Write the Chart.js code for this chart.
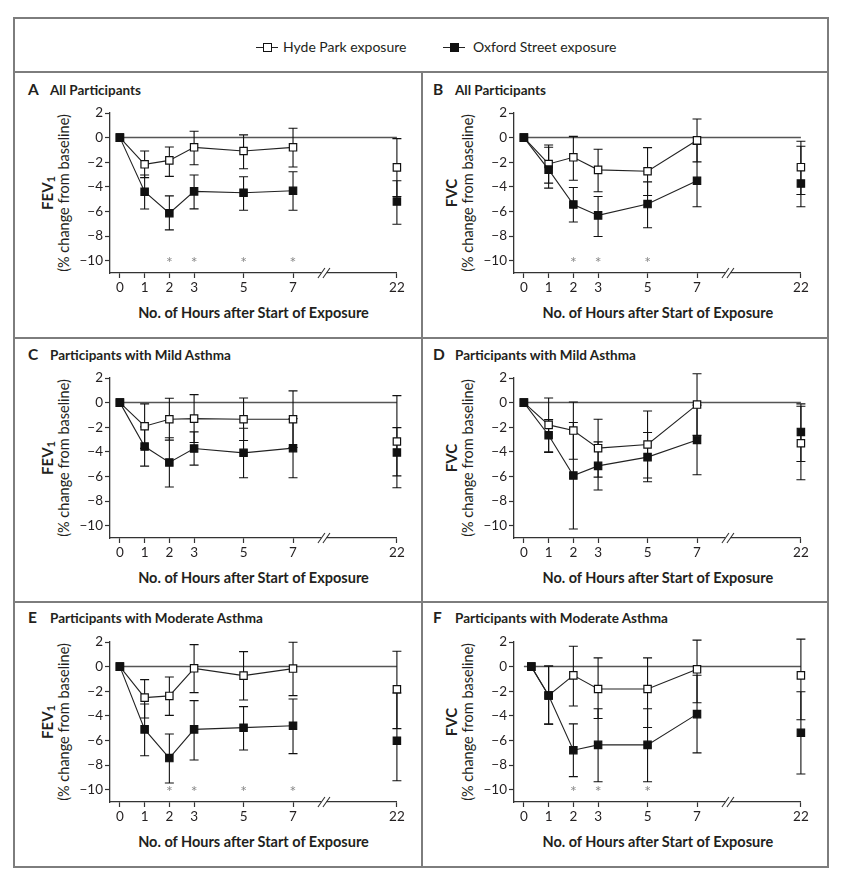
<!DOCTYPE html>
<html>
<head>
<meta charset="utf-8">
<script src="https://cdn.jsdelivr.net/npm/chart.js@4.4.0/dist/chart.umd.min.js"></script>
<style>
  body { margin: 0; background: #fff; font-family: Lato, sans-serif; color: #231f20; }
  #page { position: relative; width: 847px; height: 887px; overflow: hidden; }
  .rule { position: absolute; background: #7d7d7d; }
  .txt { position: absolute; white-space: nowrap; line-height: 1; }
  canvas { position: absolute; }
  .mk { position: absolute; width: 22px; height: 1.3px; background: #222; }
  .mk b { position: absolute; left: 6.5px; top: -3.9px; width: 9px; height: 9px; box-sizing: border-box; border: 1.2px solid #111; background: #fff; }
  .mk.fill b { background: #111; }
  .head { font-weight: bold; font-size: 13.5px; }
  .head span { font-size: 15.5px; display: inline-block; width: 22px; }
  .ytitle { font-size: 14.5px; line-height: 16px; text-align: center; transform: translate(-50%, -50%) rotate(-90deg); }
  .ytitle b { font-size: 15px; }
  .ytitle sub { font-size: 11px; vertical-align: -2px; line-height: 0; }
  .xtitle { font-weight: bold; font-size: 14.5px; transform: translate(-50%, -50%); }
</style>
</head>
<body>
<div id="page">
  <div class="rule" style="left:13px; top:17px; width:816px; height:2px"></div>
  <div class="rule" style="left:13px; top:866px; width:816px; height:2px"></div>
  <div class="rule" style="left:13px; top:17px; width:2px; height:851px"></div>
  <div class="rule" style="left:827px; top:17px; width:2px; height:851px"></div>
  <div class="rule" style="left:13px; top:71px; width:816px; height:2px"></div>
  <div class="rule" style="left:13px; top:337px; width:816px; height:2px"></div>
  <div class="rule" style="left:13px; top:601px; width:816px; height:2px"></div>
  <div class="rule" style="left:421px; top:71px; width:2px; height:797px"></div>

  <div class="mk" style="left:256px; top:47px"><b></b></div>
  <div class="txt" id="leg0" style="left:283px; top:40px; font-size:14px"></div>
  <div class="mk fill" style="left:443px; top:47px"><b></b></div>
  <div class="txt" id="leg1" style="left:473px; top:40px; font-size:14px"></div>
</div>
<script>
// time points (h after start of exposure); 22 h sits after the axis break
const hours = [0, 1, 2, 3, 5, 7, 22];
const hoursF = [0.3, 1, 2, 3, 5, 7, 22];
const yTicks = [2, 0, -2, -4, -6, -8, -10];
const seriesNames = ['Hyde Park exposure', 'Oxford Street exposure'];

// A: FEV1, all participants
const hydeA = [0, -2.17, -1.85, -0.79, -1.09, -0.79, -2.42];
const hydeALo = [null, -3.25, -3.15, -2.2, -2.53, -2.39, -4.78];
const hydeAHi = [null, -1.09, -0.76, 0.52, 0.22, 0.76, -0.08];
const oxfA = [0, -4.4, -6.14, -4.37, -4.48, -4.32, -5.19];
const oxfALo = [null, -5.8, -7.5, -5.79, -5.9, -5.9, -7.04];
const oxfAHi = [null, -3.04, -4.73, -3.04, -3.18, -2.77, -3.5];
const starsA = [2, 3, 5, 7];

// B: FVC, all participants
const hydeB = [0, -2.14, -1.6, -2.62, -2.73, -0.22, -2.4];
const hydeBLo = [null, -3.7, -3.46, -4.4, -4.7, -1.97, -4.62];
const hydeBHi = [null, -0.6, 0.1, -0.95, -0.81, 1.51, -0.3];
const oxfB = [0, -2.6, -5.43, -6.32, -5.4, -3.51, -3.73];
const oxfBLo = [null, -4.1, -6.86, -8.03, -7.32, -5.62, -5.62];
const oxfBHi = [null, -0.78, -4.05, -4.78, -3.6, -0.55, -0.7];
const starsB = [2, 3, 5];

// C: FEV1, mild asthma
const hydeC = [0, -1.92, -1.35, -1.3, -1.35, -1.35, -3.16];
const hydeCLo = [null, -3.72, -3.05, -3.24, -3.08, -3.65, -6.92];
const hydeCHi = [null, -0.1, 0.35, 0.65, 0.38, 0.95, 0.57];
const oxfC = [0, -3.57, -4.86, -3.73, -4.08, -3.7, -4.05];
const oxfCLo = [null, -5.16, -6.86, -5.08, -6.1, -6.1, -5.95];
const oxfCHi = [null, -1.97, -2.86, -2.38, -2.08, -1.3, -2.03];
const starsC = [];

// D: FVC, mild asthma
const hydeD = [0, -1.81, -2.27, -3.7, -3.4, -0.16, -3.3];
const hydeDLo = [null, -4.0, -4.6, -6.05, -6.12, -2.66, -6.27];
const hydeDHi = [null, 0.38, 0.05, -1.35, -0.68, 2.35, -0.3];
const oxfD = [0, -2.65, -5.92, -5.14, -4.43, -3.03, -2.38];
const oxfDLo = [null, -4.05, -10.27, -7.1, -6.43, -5.86, -4.78];
const oxfDHi = [null, -1.38, -1.62, -3.19, -2.43, -0.2, -0.1];
const starsD = [];

// E: FEV1, moderate asthma
const hydeE = [0, -2.52, -2.38, -0.14, -0.73, -0.16, -1.84];
const hydeELo = [null, -4.17, -3.96, -2.11, -2.71, -2.36, -5.04];
const hydeEHi = [null, -1.06, -0.84, 1.79, 1.22, 1.98, 1.25];
const oxfE = [0, -5.1, -7.43, -5.1, -4.96, -4.8, -6.02];
const oxfELo = [null, -7.24, -9.46, -7.59, -6.78, -7.07, -9.27];
const oxfEHi = [null, -3.04, -5.47, -2.76, -3.25, -2.63, -2.14];
const starsE = [2, 3, 5, 7];

// F: FVC, moderate asthma
const hydeF = [0, -2.34, -0.71, -1.82, -1.82, -0.22, -0.71];
const hydeFLo = [null, -4.67, -3.2, -4.21, -4.95, -2.93, -4.32];
const hydeFHi = [null, 0.05, 1.66, 0.71, 0.71, 2.15, 2.23];
const oxfF = [0, -2.34, -6.79, -6.36, -6.36, -3.86, -5.38];
const oxfFLo = [null, -4.67, -8.94, -9.35, -9.35, -7.01, -8.72];
const oxfFHi = [null, 0.05, -4.65, -3.42, -3.42, -0.7, -2.04];
const starsF = [2, 3, 5];

const panels = [
  { key: 'A', title: 'All Participants', measure: 'FEV', sub: '1', col: 0, row: 0, hrs: hours,
    hyde: hydeA, hydeLo: hydeALo, hydeHi: hydeAHi, oxf: oxfA, oxfLo: oxfALo, oxfHi: oxfAHi, stars: starsA },
  { key: 'B', title: 'All Participants', measure: 'FVC', sub: '', col: 1, row: 0, hrs: hours,
    hyde: hydeB, hydeLo: hydeBLo, hydeHi: hydeBHi, oxf: oxfB, oxfLo: oxfBLo, oxfHi: oxfBHi, stars: starsB },
  { key: 'C', title: 'Participants with Mild Asthma', measure: 'FEV', sub: '1', col: 0, row: 1, hrs: hours,
    hyde: hydeC, hydeLo: hydeCLo, hydeHi: hydeCHi, oxf: oxfC, oxfLo: oxfCLo, oxfHi: oxfCHi, stars: starsC },
  { key: 'D', title: 'Participants with Mild Asthma', measure: 'FVC', sub: '', col: 1, row: 1, hrs: hours,
    hyde: hydeD, hydeLo: hydeDLo, hydeHi: hydeDHi, oxf: oxfD, oxfLo: oxfDLo, oxfHi: oxfDHi, stars: starsD },
  { key: 'E', title: 'Participants with Moderate Asthma', measure: 'FEV', sub: '1', col: 0, row: 2, hrs: hours,
    hyde: hydeE, hydeLo: hydeELo, hydeHi: hydeEHi, oxf: oxfE, oxfLo: oxfELo, oxfHi: oxfEHi, stars: starsE },
  { key: 'F', title: 'Participants with Moderate Asthma', measure: 'FVC', sub: '', col: 1, row: 2, hrs: hoursF,
    hyde: hydeF, hydeLo: hydeFLo, hydeHi: hydeFHi, oxf: oxfF, oxfLo: oxfFLo, oxfHi: oxfFHi, stars: starsF },
];

// page layout
const axisX = [110, 514.3];        // y-axis line per column
const chartTop = [112.5, 378, 641.5];
const headY = [90, 355, 618];
const headX = [28, 433];
const plotH = 160;
const BREAK_AT = 11.2;             // axis position used for the 22-h column
const BREAK_MARK = 8.25;

const page = document.getElementById('page');
document.getElementById('leg0').textContent = seriesNames[0];
document.getElementById('leg1').textContent = seriesNames[1];

function xPos(h) { return h > 7 ? BREAK_AT : h; }
function minus(v) { return v < 0 ? '\u2212' + Math.abs(v) : String(v); }

function addText(cls, html, left, top) {
  const d = document.createElement('div');
  d.className = 'txt ' + cls;
  d.innerHTML = html;
  d.style.left = left + 'px';
  d.style.top = top + 'px';
  page.appendChild(d);
  return d;
}

// error bars, zero line, asterisks and the axis break
function decor(p) {
  return {
    id: 'decor' + p.key,
    beforeDatasetsDraw(chart) {
      const { ctx, scales: { x, y } } = chart;
      ctx.save();
      ctx.strokeStyle = '#555';
      ctx.lineWidth = 1.5;
      ctx.beginPath();
      ctx.moveTo(x.getPixelForValue(0), y.getPixelForValue(0));
      ctx.lineTo(x.getPixelForValue(BREAK_AT), y.getPixelForValue(0));
      ctx.stroke();

      ctx.strokeStyle = '#111';
      ctx.lineWidth = 1.1;
      [[p.hydeLo, p.hydeHi], [p.oxfLo, p.oxfHi]].forEach(([lo, hi]) => {
        lo.forEach((v, i) => {
          if (v == null) return;
          const px = x.getPixelForValue(xPos(p.hrs[i]));
          const y1 = y.getPixelForValue(v), y2 = y.getPixelForValue(hi[i]);
          ctx.beginPath();
          ctx.moveTo(px, y1); ctx.lineTo(px, y2);
          ctx.moveTo(px - 4.5, y1); ctx.lineTo(px + 4.5, y1);
          ctx.moveTo(px - 4.5, y2); ctx.lineTo(px + 4.5, y2);
          ctx.stroke();
        });
      });
      ctx.restore();
    },
    afterDraw(chart) {
      const { ctx, chartArea, scales: { x, y } } = chart;
      ctx.save();
      ctx.fillStyle = '#888';
      ctx.font = '16px Lato';
      ctx.textAlign = 'center';
      ctx.textBaseline = 'middle';
      p.stars.forEach(h => ctx.fillText('*', x.getPixelForValue(h), y.getPixelForValue(-9.9) + 3));

      const bx = x.getPixelForValue(BREAK_MARK), by = chartArea.bottom;
      ctx.fillStyle = '#fff';
      ctx.fillRect(bx - 2.5, by - 2, 5, 4);
      ctx.strokeStyle = '#333';
      ctx.lineWidth = 1.1;
      ctx.beginPath();
      [-2.5, 2.5].forEach(d => {
        ctx.moveTo(bx + d - 3.5, by + 5);
        ctx.lineTo(bx + d + 3.5, by - 5);
      });
      ctx.stroke();
      ctx.restore();
    }
  };
}

const tickFont = { family: 'Lato', size: 13.5 };

panels.forEach(p => {
  const ax = axisX[p.col], top = chartTop[p.row];

  addText('head', '<span>' + p.key + '</span>' + p.title, headX[p.col], headY[p.row] - 8);
  addText('ytitle', '<b>' + p.measure + (p.sub ? '<sub>' + p.sub + '</sub>' : '') + '</b><br>(% change from baseline)',
    ax - 55, top + plotH / 2);
  addText('xtitle', 'No. of Hours after Start of Exposure', ax + 143.5, top + plotH + 40);

  const cv = document.createElement('canvas');
  cv.width = 350;
  cv.height = 200;
  cv.style.left = (ax - 50) + 'px';
  cv.style.top = (top - 12) + 'px';
  page.appendChild(cv);

  const last = p.hrs.length - 1;
  const pts = vals => vals.map((v, i) => ({ x: xPos(p.hrs[i]), y: v }));
  const common = {
    pointStyle: 'rect', pointRadius: 5.2, pointBorderColor: '#111', pointBorderWidth: 1.2,
    borderColor: '#222', borderWidth: 1.1, tension: 0, clip: false,
    segment: { borderColor: c => c.p1DataIndex === last ? 'rgba(0,0,0,0)' : '#222' }
  };

  new Chart(cv, {
    type: 'line',
    data: {
      datasets: [
        Object.assign({ label: seriesNames[0], data: pts(p.hyde), order: 1, pointBackgroundColor: '#fff' }, common),
        Object.assign({ label: seriesNames[1], data: pts(p.oxf), order: 0, pointBackgroundColor: '#111' }, common)
      ]
    },
    options: {
      responsive: false,
      animation: false,
      events: [],
      layout: { padding: { left: 0, right: 13.1, top: 12, bottom: 3 } },
      plugins: { legend: { display: false }, tooltip: { enabled: false } },
      scales: {
        x: {
          type: 'linear', min: -0.4, max: BREAK_AT,
          afterBuildTicks: a => { a.ticks = hours.map(h => ({ value: xPos(h) })); },
          afterFit: a => { a.height = 25; },
          ticks: { autoSkip: false, maxRotation: 0, padding: 2, color: '#231f20', font: tickFont,
                   callback: (v, i) => String(hours[i]) },
          grid: { drawOnChartArea: false, drawTicks: true, tickLength: 5, tickColor: '#333', tickWidth: 1.2 },
          border: { color: '#333', width: 1.3 }
        },
        y: {
          min: -11, max: 2,
          afterBuildTicks: a => { a.ticks = yTicks.map(v => ({ value: v })); },
          afterFit: a => { a.width = 50; },
          ticks: { padding: 2, color: '#231f20', font: tickFont, callback: v => minus(v) },
          grid: { drawOnChartArea: false, drawTicks: true, tickLength: 5, tickColor: '#333', tickWidth: 1.2 },
          border: { color: '#333', width: 1.3 }
        }
      }
    },
    plugins: [decor(p)]
  });
});
</script>
</body>
</html>
